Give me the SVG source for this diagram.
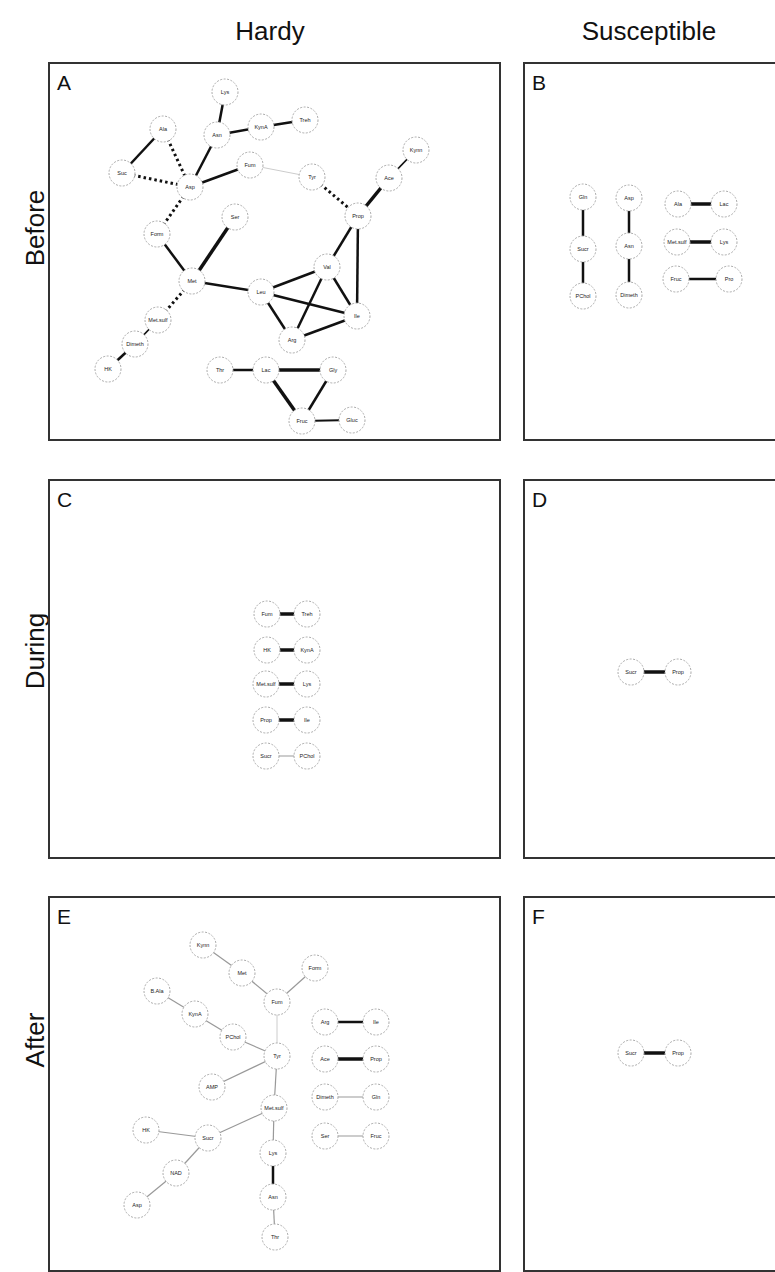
<svg xmlns="http://www.w3.org/2000/svg" width="775" height="1272" viewBox="0 0 775 1272">
<style>
.panel{fill:#fff;stroke:#333;stroke-width:2}
.title{font-family:"Liberation Sans",Arial,sans-serif;font-size:26px;fill:#111}
.letter{font-family:"Liberation Sans",Arial,sans-serif;font-size:21px;fill:#111}
.n circle{fill:#fff;stroke:#aaa;stroke-width:1;stroke-dasharray:2,1.5}
.n text{font-family:"Liberation Sans",Arial,sans-serif;font-size:5.5px;fill:#222;text-anchor:middle;dominant-baseline:central}
.e{stroke:#111;stroke-width:2.5;fill:none}
.t{stroke-width:3.5}
.m{stroke-width:1.8}
.d{stroke-dasharray:2.5,3;stroke-width:3}
.g{stroke:#999;stroke-width:1.2}
.l{stroke:#ccc;stroke-width:1}
</style>
<rect width="775" height="1272" fill="#fff"/>
<g id="labels">
<text class="title" x="270" y="40" text-anchor="middle">Hardy</text>
<text class="title" x="649" y="40" text-anchor="middle">Susceptible</text>
<text class="title" transform="translate(44,228) rotate(-90)" text-anchor="middle">Before</text>
<text class="title" transform="translate(44,651) rotate(-90)" text-anchor="middle">During</text>
<text class="title" transform="translate(44,1040) rotate(-90)" text-anchor="middle">After</text>
</g>
<g id="panels">
<rect class="panel" x="49" y="63" width="451" height="377"/>
<rect class="panel" x="524" y="63" width="260" height="377"/>
<rect class="panel" x="49" y="480" width="451" height="378"/>
<rect class="panel" x="524" y="480" width="260" height="378"/>
<rect class="panel" x="49" y="897" width="451" height="374"/>
<rect class="panel" x="524" y="897" width="260" height="374"/>
<text class="letter" x="57" y="90">A</text>
<text class="letter" x="532" y="90">B</text>
<text class="letter" x="57" y="507">C</text>
<text class="letter" x="532" y="507">D</text>
<text class="letter" x="57" y="924">E</text>
<text class="letter" x="532" y="924">F</text>
</g>
<g id="connectors">
<!-- A -->
<line class="e" x1="225" y1="92" x2="217" y2="135"/>
<line class="e" x1="217" y1="135" x2="261" y2="127"/>
<line class="e" x1="261" y1="127" x2="305" y2="120"/>
<line class="e" x1="163" y1="129" x2="122" y2="173"/>
<line class="e d" x1="163" y1="129" x2="190" y2="187"/>
<line class="e d" x1="122" y1="173" x2="190" y2="187"/>
<line class="e" x1="217" y1="135" x2="190" y2="187"/>
<line class="e" x1="190" y1="187" x2="250" y2="165"/>
<line class="e l" x1="250" y1="165" x2="312" y2="177"/>
<line class="e d" x1="312" y1="177" x2="358" y2="216"/>
<line class="e m" x1="416" y1="150" x2="389" y2="178"/>
<line class="e t" x1="389" y1="178" x2="358" y2="216"/>
<line class="e d" x1="190" y1="187" x2="157" y2="234"/>
<line class="e" x1="157" y1="234" x2="192" y2="281"/>
<line class="e t" x1="235" y1="217" x2="192" y2="281"/>
<line class="e" x1="192" y1="281" x2="261" y2="292"/>
<line class="e d" x1="192" y1="281" x2="158" y2="320"/>
<line class="e m" x1="158" y1="320" x2="135" y2="344"/>
<line class="e" x1="135" y1="344" x2="108" y2="369"/>
<line class="e" x1="358" y1="216" x2="327" y2="267"/>
<line class="e" x1="358" y1="216" x2="357" y2="316"/>
<line class="e" x1="261" y1="292" x2="327" y2="267"/>
<line class="e" x1="261" y1="292" x2="357" y2="316"/>
<line class="e" x1="261" y1="292" x2="292" y2="340"/>
<line class="e" x1="327" y1="267" x2="292" y2="340"/>
<line class="e" x1="327" y1="267" x2="357" y2="316"/>
<line class="e" x1="292" y1="340" x2="357" y2="316"/>
<line class="e" x1="220" y1="370" x2="266" y2="370"/>
<line class="e t" x1="266" y1="370" x2="333" y2="370"/>
<line class="e t" x1="266" y1="370" x2="302" y2="421"/>
<line class="e" x1="333" y1="370" x2="302" y2="421"/>
<line class="e m" x1="302" y1="421" x2="352" y2="420"/>
<!-- B -->
<line class="e" x1="583" y1="197" x2="583" y2="249"/>
<line class="e" x1="583" y1="249" x2="583" y2="296"/>
<line class="e" x1="629" y1="198" x2="629" y2="246"/>
<line class="e" x1="629" y1="246" x2="629" y2="295"/>
<line class="e t" x1="678" y1="204" x2="724" y2="204"/>
<line class="e t" x1="677" y1="242" x2="724" y2="242"/>
<line class="e" x1="676" y1="279" x2="729" y2="279"/>
<!-- C -->
<line class="e t" x1="267" y1="614" x2="307" y2="614"/>
<line class="e t" x1="267" y1="650" x2="307" y2="650"/>
<line class="e t" x1="266" y1="684" x2="307" y2="684"/>
<line class="e t" x1="266" y1="720" x2="307" y2="720"/>
<line class="e g" x1="266" y1="756" x2="307" y2="756"/>
<!-- D -->
<line class="e t" x1="631" y1="672" x2="678" y2="672"/>
<!-- E -->
<line class="e g" x1="203" y1="945" x2="242" y2="973"/>
<line class="e g" x1="242" y1="973" x2="277" y2="1002"/>
<line class="e g" x1="315" y1="968" x2="277" y2="1002"/>
<line class="e l" x1="277" y1="1002" x2="277" y2="1056"/>
<line class="e g" x1="157" y1="991" x2="195" y2="1014"/>
<line class="e g" x1="195" y1="1014" x2="233" y2="1037"/>
<line class="e g" x1="233" y1="1037" x2="277" y2="1056"/>
<line class="e g" x1="277" y1="1056" x2="212" y2="1087"/>
<line class="e g" x1="277" y1="1056" x2="274" y2="1108"/>
<line class="e g" x1="274" y1="1108" x2="208" y2="1138"/>
<line class="e g" x1="146" y1="1130" x2="208" y2="1138"/>
<line class="e g" x1="208" y1="1138" x2="176" y2="1173"/>
<line class="e g" x1="176" y1="1173" x2="137" y2="1205"/>
<line class="e g" x1="274" y1="1108" x2="273" y2="1153"/>
<line class="e" x1="273" y1="1153" x2="273" y2="1197"/>
<line class="e g" x1="273" y1="1197" x2="275" y2="1237"/>
<line class="e" x1="325" y1="1022" x2="376" y2="1022"/>
<line class="e t" x1="325" y1="1059" x2="376" y2="1059"/>
<line class="e g" x1="325" y1="1097" x2="376" y2="1097"/>
<line class="e g" x1="325" y1="1136" x2="376" y2="1136"/>
<!-- F -->
<line class="e t" x1="631" y1="1053" x2="678" y2="1053"/>
</g>
<g id="nodes-A">
<g id="A-Lys" class="n"><circle cx="225" cy="92" r="13"/><text x="225" y="92">Lys</text></g>
<g id="A-Ala" class="n"><circle cx="163" cy="129" r="13"/><text x="163" y="129">Ala</text></g>
<g id="A-Asn" class="n"><circle cx="217" cy="135" r="13"/><text x="217" y="135">Asn</text></g>
<g id="A-KynA" class="n"><circle cx="261" cy="127" r="13"/><text x="261" y="127">KynA</text></g>
<g id="A-Treh" class="n"><circle cx="305" cy="120" r="13"/><text x="305" y="120">Treh</text></g>
<g id="A-Suc" class="n"><circle cx="122" cy="173" r="13"/><text x="122" y="173">Suc</text></g>
<g id="A-Asp" class="n"><circle cx="190" cy="187" r="13"/><text x="190" y="187">Asp</text></g>
<g id="A-Fum" class="n"><circle cx="250" cy="165" r="13"/><text x="250" y="165">Fum</text></g>
<g id="A-Tyr" class="n"><circle cx="312" cy="177" r="13"/><text x="312" y="177">Tyr</text></g>
<g id="A-Kynn" class="n"><circle cx="416" cy="150" r="13"/><text x="416" y="150">Kynn</text></g>
<g id="A-Ace" class="n"><circle cx="389" cy="178" r="13"/><text x="389" y="178">Ace</text></g>
<g id="A-Prop" class="n"><circle cx="358" cy="216" r="13"/><text x="358" y="216">Prop</text></g>
<g id="A-Ser" class="n"><circle cx="235" cy="217" r="13"/><text x="235" y="217">Ser</text></g>
<g id="A-Form" class="n"><circle cx="157" cy="234" r="13"/><text x="157" y="234">Form</text></g>
<g id="A-Met" class="n"><circle cx="192" cy="281" r="13"/><text x="192" y="281">Met</text></g>
<g id="A-Leu" class="n"><circle cx="261" cy="292" r="13"/><text x="261" y="292">Leu</text></g>
<g id="A-Val" class="n"><circle cx="327" cy="267" r="13"/><text x="327" y="267">Val</text></g>
<g id="A-Ile" class="n"><circle cx="357" cy="316" r="13"/><text x="357" y="316">Ile</text></g>
<g id="A-Arg" class="n"><circle cx="292" cy="340" r="13"/><text x="292" y="340">Arg</text></g>
<g id="A-Metsulf" class="n"><circle cx="158" cy="320" r="13"/><text x="158" y="320">Met.sulf</text></g>
<g id="A-Dimeth" class="n"><circle cx="135" cy="344" r="13"/><text x="135" y="344">Dimeth</text></g>
<g id="A-HK" class="n"><circle cx="108" cy="369" r="13"/><text x="108" y="369">HK</text></g>
<g id="A-Thr" class="n"><circle cx="220" cy="370" r="13"/><text x="220" y="370">Thr</text></g>
<g id="A-Lac" class="n"><circle cx="266" cy="370" r="13"/><text x="266" y="370">Lac</text></g>
<g id="A-Gly" class="n"><circle cx="333" cy="370" r="13"/><text x="333" y="370">Gly</text></g>
<g id="A-Fruc" class="n"><circle cx="302" cy="421" r="13"/><text x="302" y="421">Fruc</text></g>
<g id="A-Gluc" class="n"><circle cx="352" cy="420" r="13"/><text x="352" y="420">Gluc</text></g>
</g>
<g id="nodes-B">
<g id="B-Gln" class="n"><circle cx="583" cy="197" r="13"/><text x="583" y="197">Gln</text></g>
<g id="B-Sucr" class="n"><circle cx="583" cy="249" r="13"/><text x="583" y="249">Sucr</text></g>
<g id="B-PChol" class="n"><circle cx="583" cy="296" r="13"/><text x="583" y="296">PChol</text></g>
<g id="B-Asp" class="n"><circle cx="629" cy="198" r="13"/><text x="629" y="198">Asp</text></g>
<g id="B-Asn" class="n"><circle cx="629" cy="246" r="13"/><text x="629" y="246">Asn</text></g>
<g id="B-Dimeth" class="n"><circle cx="629" cy="295" r="13"/><text x="629" y="295">Dimeth</text></g>
<g id="B-Ala" class="n"><circle cx="678" cy="204" r="13"/><text x="678" y="204">Ala</text></g>
<g id="B-Lac" class="n"><circle cx="724" cy="204" r="13"/><text x="724" y="204">Lac</text></g>
<g id="B-Metsulf" class="n"><circle cx="677" cy="242" r="13"/><text x="677" y="242">Met.sulf</text></g>
<g id="B-Lys" class="n"><circle cx="724" cy="242" r="13"/><text x="724" y="242">Lys</text></g>
<g id="B-Fruc" class="n"><circle cx="676" cy="279" r="13"/><text x="676" y="279">Fruc</text></g>
<g id="B-Pro" class="n"><circle cx="729" cy="279" r="13"/><text x="729" y="279">Pro</text></g>
</g>
<g id="nodes-C">
<g id="C-Fum" class="n"><circle cx="267" cy="614" r="13"/><text x="267" y="614">Fum</text></g>
<g id="C-Treh" class="n"><circle cx="307" cy="614" r="13"/><text x="307" y="614">Treh</text></g>
<g id="C-HK" class="n"><circle cx="267" cy="650" r="13"/><text x="267" y="650">HK</text></g>
<g id="C-KynA" class="n"><circle cx="307" cy="650" r="13"/><text x="307" y="650">KynA</text></g>
<g id="C-Metsulf" class="n"><circle cx="266" cy="684" r="13"/><text x="266" y="684">Met.sulf</text></g>
<g id="C-Lys" class="n"><circle cx="307" cy="684" r="13"/><text x="307" y="684">Lys</text></g>
<g id="C-Prop" class="n"><circle cx="266" cy="720" r="13"/><text x="266" y="720">Prop</text></g>
<g id="C-Ile" class="n"><circle cx="307" cy="720" r="13"/><text x="307" y="720">Ile</text></g>
<g id="C-Sucr" class="n"><circle cx="266" cy="756" r="13"/><text x="266" y="756">Sucr</text></g>
<g id="C-PChol" class="n"><circle cx="307" cy="756" r="13"/><text x="307" y="756">PChol</text></g>
</g>
<g id="nodes-D">
<g id="D-Sucr" class="n"><circle cx="631" cy="672" r="13"/><text x="631" y="672">Sucr</text></g>
<g id="D-Prop" class="n"><circle cx="678" cy="672" r="13"/><text x="678" y="672">Prop</text></g>
</g>
<g id="nodes-E">
<g id="E-Kynn" class="n"><circle cx="203" cy="945" r="13"/><text x="203" y="945">Kynn</text></g>
<g id="E-Met" class="n"><circle cx="242" cy="973" r="13"/><text x="242" y="973">Met</text></g>
<g id="E-Form" class="n"><circle cx="315" cy="968" r="13"/><text x="315" y="968">Form</text></g>
<g id="E-Fum" class="n"><circle cx="277" cy="1002" r="13"/><text x="277" y="1002">Fum</text></g>
<g id="E-BAla" class="n"><circle cx="157" cy="991" r="13"/><text x="157" y="991">B.Ala</text></g>
<g id="E-KynA" class="n"><circle cx="195" cy="1014" r="13"/><text x="195" y="1014">KynA</text></g>
<g id="E-PChol" class="n"><circle cx="233" cy="1037" r="13"/><text x="233" y="1037">PChol</text></g>
<g id="E-Tyr" class="n"><circle cx="277" cy="1056" r="13"/><text x="277" y="1056">Tyr</text></g>
<g id="E-AMP" class="n"><circle cx="212" cy="1087" r="13"/><text x="212" y="1087">AMP</text></g>
<g id="E-Metsulf" class="n"><circle cx="274" cy="1108" r="13"/><text x="274" y="1108">Met.sulf</text></g>
<g id="E-HK" class="n"><circle cx="146" cy="1130" r="13"/><text x="146" y="1130">HK</text></g>
<g id="E-Sucr" class="n"><circle cx="208" cy="1138" r="13"/><text x="208" y="1138">Sucr</text></g>
<g id="E-Lys" class="n"><circle cx="273" cy="1153" r="13"/><text x="273" y="1153">Lys</text></g>
<g id="E-NAD" class="n"><circle cx="176" cy="1173" r="13"/><text x="176" y="1173">NAD</text></g>
<g id="E-Asn" class="n"><circle cx="273" cy="1197" r="13"/><text x="273" y="1197">Asn</text></g>
<g id="E-Asp" class="n"><circle cx="137" cy="1205" r="13"/><text x="137" y="1205">Asp</text></g>
<g id="E-Thr" class="n"><circle cx="275" cy="1237" r="13"/><text x="275" y="1237">Thr</text></g>
<g id="E-Arg" class="n"><circle cx="325" cy="1022" r="13"/><text x="325" y="1022">Arg</text></g>
<g id="E-Ile" class="n"><circle cx="376" cy="1022" r="13"/><text x="376" y="1022">Ile</text></g>
<g id="E-Ace" class="n"><circle cx="325" cy="1059" r="13"/><text x="325" y="1059">Ace</text></g>
<g id="E-Prop" class="n"><circle cx="376" cy="1059" r="13"/><text x="376" y="1059">Prop</text></g>
<g id="E-Dimeth" class="n"><circle cx="325" cy="1097" r="13"/><text x="325" y="1097">Dimeth</text></g>
<g id="E-Gln" class="n"><circle cx="376" cy="1097" r="13"/><text x="376" y="1097">Gln</text></g>
<g id="E-Ser" class="n"><circle cx="325" cy="1136" r="13"/><text x="325" y="1136">Ser</text></g>
<g id="E-Fruc" class="n"><circle cx="376" cy="1136" r="13"/><text x="376" y="1136">Fruc</text></g>
</g>
<g id="nodes-F">
<g id="F-Sucr" class="n"><circle cx="631" cy="1053" r="13"/><text x="631" y="1053">Sucr</text></g>
<g id="F-Prop" class="n"><circle cx="678" cy="1053" r="13"/><text x="678" y="1053">Prop</text></g>
</g>
</svg>
